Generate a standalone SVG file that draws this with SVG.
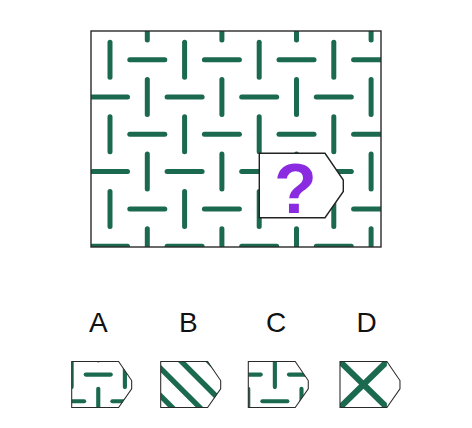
<svg xmlns="http://www.w3.org/2000/svg" xmlns:xlink="http://www.w3.org/1999/xlink" width="472" height="428" viewBox="0 0 472 428">
<style>
.bar{stroke:#1b6a50;stroke-linecap:round;fill:none}
.stripe{stroke:#1b6a50;fill:none}
.frame{fill:none;stroke:#2a2a2a}
.lbl{font-family:"Liberation Sans",Arial,sans-serif;font-size:28px;fill:#111;text-anchor:middle}
</style>
<defs>
<line id="v" x1="0" y1="-17.5" x2="0" y2="17.5"/>
<line id="h" x1="-17.5" y1="0" x2="17.5" y2="0"/>
<g id="rowA">
<use href="#v" x="72.7"/><use href="#h" x="110"/><use href="#v" x="147.3"/><use href="#h" x="184.6"/><use href="#v" x="221.9"/>
<use href="#h" x="259.2"/><use href="#v" x="296.5"/><use href="#h" x="333.8"/><use href="#v" x="371.1"/><use href="#h" x="408.4"/>
</g>
<g id="rowB">
<use href="#v" x="110"/><use href="#h" x="147.3"/><use href="#v" x="184.6"/><use href="#h" x="221.9"/>
<use href="#v" x="259.2"/><use href="#h" x="296.5"/><use href="#v" x="333.8"/><use href="#h" x="371.1"/><use href="#v" x="408.4"/>
</g>
<g id="bars">
<use href="#rowA" y="22.4"/><use href="#rowB" y="59.7"/><use href="#rowA" y="97"/><use href="#rowB" y="134.3"/>
<use href="#rowA" y="171.6"/><use href="#rowB" y="208.9"/><use href="#rowA" y="246.2"/>
</g>
<path id="qshape" d="M259.3,153.3 H325 L343.3,180 V191.5 L325,217.7 H259.3 Z"/>
<clipPath id="clipMain"><rect x="91" y="31" width="290" height="216"/></clipPath>
<clipPath id="clipQ"><use href="#qshape"/></clipPath>
<clipPath id="clipR"><rect x="259.3" y="153.3" width="65.7" height="64.4"/></clipPath>
</defs>

<g id="grid">
<g clip-path="url(#clipMain)"><use href="#bars" class="bar" stroke-width="5"/></g>
<rect class="frame" x="91" y="31" width="290" height="216" stroke-width="1.4"/>
</g>

<g id="question">
<use href="#qshape" fill="#fff" stroke="#222" stroke-width="1.4"/>
<text x="295.5" y="212.5" font-family="'Liberation Sans',Arial,sans-serif" font-weight="bold" font-size="70" fill="#8a2be2" text-anchor="middle">?</text>
</g>

<g id="labels">
<text class="lbl" x="98.3" y="331.7">A</text>
<text class="lbl" x="188.3" y="331.7">B</text>
<text class="lbl" x="276" y="331.7">C</text>
<text class="lbl" x="366.7" y="331.7">D</text>
</g>

<g id="optionA" transform="translate(71.7,361.5) scale(0.714) translate(-259.3,-153.3)">
<g clip-path="url(#clipQ)"><use href="#bars" x="37.3" class="bar" stroke-width="5.8"/></g>
<use href="#qshape" class="frame" stroke-width="1.5"/>
</g>

<g id="optionB" transform="translate(160.7,361.5) scale(0.714) translate(-259.3,-153.3)">
<g clip-path="url(#clipQ)" class="stripe" stroke-width="7.5">
<line x1="197.7" y1="140" x2="287.7" y2="230"/>
<line x1="236.3" y1="140" x2="326.3" y2="230"/>
<line x1="275" y1="140" x2="365" y2="230"/>
<line x1="313.6" y1="140" x2="403.6" y2="230"/>
</g>
<use href="#qshape" class="frame" stroke-width="1.5"/>
</g>

<g id="optionC" transform="translate(248.3,361.5) scale(0.714) translate(-259.3,-153.3)">
<g clip-path="url(#clipQ)"><use href="#bars" class="bar" stroke-width="5.8"/></g>
<use href="#qshape" class="frame" stroke-width="1.5"/>
</g>

<g id="optionD" transform="translate(340,361.5) scale(0.714) translate(-259.3,-153.3)">
<g clip-path="url(#clipR)" class="stripe" stroke-width="8.5">
<line x1="252.7" y1="146.9" x2="331.6" y2="224.1"/>
<line x1="331.6" y1="146.9" x2="252.7" y2="224.1"/>
</g>
<use href="#qshape" class="frame" stroke-width="1.5"/>
</g>
</svg>
